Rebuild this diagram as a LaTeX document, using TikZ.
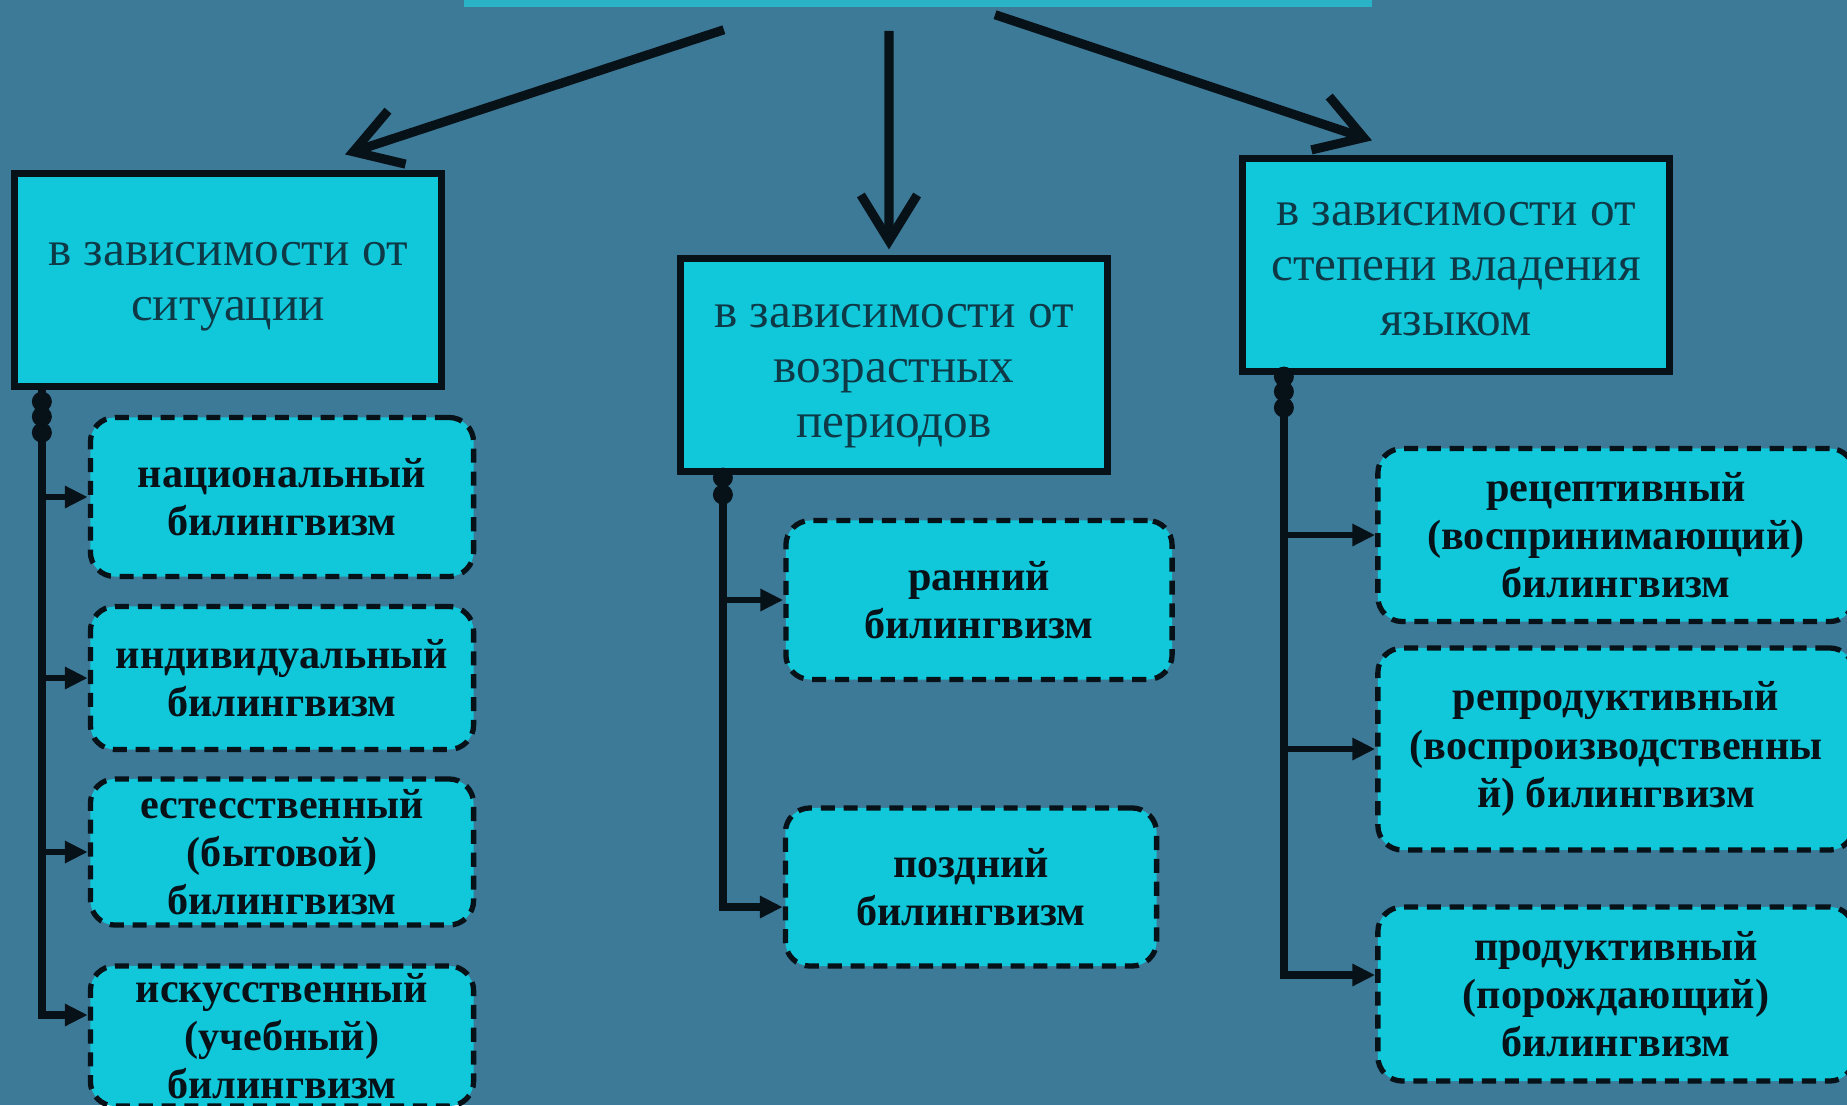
\documentclass[tikz,border=0pt]{standalone}
\usepackage{fontspec}
\setmainfont{Liberation Serif}
\usetikzlibrary{arrows.meta}
\definecolor{bgblue}{RGB}{60,122,152}
\definecolor{boxcyan}{RGB}{16,200,218}
\definecolor{topcyan}{RGB}{42,178,198}
\definecolor{ink}{RGB}{6,18,24}
\definecolor{headtext}{RGB}{14,58,72}
\tikzset{
	head/.style={draw=ink, line width=2pt, fill=boxcyan,
		minimum width=4.27cm, minimum height=2.12cm, inner sep=0pt},
	headlabel/.style={text=headtext, align=center, inner sep=0pt,
		font=\fontsize{14}{15.6}\selectfont},
	kind/.style={draw=ink, line width=1.5pt, dash pattern=on 4pt off 2.5pt,
		rounded corners=7pt, fill=boxcyan, text=ink, align=center, inner sep=0pt,
		font=\bfseries\fontsize{12}{13.7}\selectfont},
	trunk/.style={ink, line width=2.3pt, -{Triangle[length=6.5pt,width=6pt]}},
	branch/.style={ink, line width=1.8pt, -{Triangle[length=6.5pt,width=6pt]}},
	bigarrow/.style={ink, line width=2.6pt, -{Straight Barb[length=13pt,width=16pt]}},
}
\begin{document}
\begin{tikzpicture}[x=0.01cm, y=-0.01cm]
	\useasboundingbox (0,0) rectangle (1847,1105);
	\clip (0,0) rectangle (1847,1105);
	\fill[bgblue] (0,0) rectangle (1847,1105);

	% title bar, cut off at the top
	\node[fill=topcyan, minimum width=9.07cm, minimum height=0.94cm, inner sep=0pt] (title) at (918,-40) {};

	% three criteria
	\node[head] (sit) at (228,280) {};
	\node[head] (age) at (894,365) {};
	\node[head] (lvl) at (1456,265) {};
	\node[headlabel] (sit-txt) at ([yshift=-0.07cm]sit.center) {в зависимости от\\ситуации};
	\node[headlabel] (age-txt) at ([yshift=-0.11cm]age.center) {в зависимости от\\возрастных\\периодов};
	\node[headlabel] (lvl-txt) at ([yshift=-0.04cm]lvl.center) {в зависимости от\\степени владения\\языком};

	\coordinate (from-sit) at ([xshift=-1.94cm,yshift=-0.22cm]title.south);
	\coordinate (from-age) at ([xshift=-0.29cm,yshift=-0.23cm]title.south);
	\coordinate (from-lvl) at ([xshift=0.77cm,yshift=-0.07cm]title.south);
	\draw[bigarrow] (from-sit) -- ([xshift=1.17cm,yshift=0.16cm]sit.north);
	\draw[bigarrow] (from-age) -- ([xshift=-0.05cm,yshift=0.06cm]age.north);
	\draw[bigarrow] (from-lvl) -- ([xshift=-0.84cm,yshift=0.15cm]lvl.north);

	% kinds by situation
	\node[kind, minimum width=3.83cm, minimum height=1.59cm] (nat) at (282,497) {национальный\\билингвизм};
	\node[kind, minimum width=3.83cm, minimum height=1.43cm] (ind) at (282,678) {индивидуальный\\билингвизм};
	\node[kind, minimum width=3.83cm, minimum height=1.46cm] (natural) at (282,852) {естесственный\\(бытовой)\\билингвизм};
	\node[kind, minimum width=3.83cm, minimum height=1.40cm] (art) at (282,1036) {искусственный\\(учебный)\\билингвизм};

	% kinds by age
	\node[kind, minimum width=3.86cm, minimum height=1.59cm] (early) at (979,600) {ранний\\билингвизм};
	\node[kind, minimum width=3.71cm, minimum height=1.58cm] (late) at (971,887) {поздний\\билингвизм};

	% kinds by language level
	\node[kind, minimum width=4.76cm, minimum height=1.73cm] (rec) at (1616,535) {рецептивный\\(воспринимающий)\\билингвизм};
	\node[kind, minimum width=4.76cm, minimum height=2.02cm] (rep) at (1616,749) {репродуктивный\\(воспроизводственны\\й) билингвизм};
	\node[kind, minimum width=4.76cm, minimum height=1.74cm] (prod) at (1616,994) {продуктивный\\(порождающий)\\билингвизм};

	% trunks
	\coordinate (tl) at ([xshift=0.31cm]sit.south west);
	\coordinate (tm) at ([xshift=0.46cm]age.south west);
	\coordinate (tr) at ([xshift=0.45cm]lvl.south west);
	\draw[trunk] (tl) |- ([yshift=0.21cm]art.west);
	\draw[trunk] (tm) |- ([yshift=-0.2cm]late.west);
	\draw[trunk] (tr) |- ([yshift=0.19cm]prod.west);
	\foreach \s in {0.12,0.27,0.43} \fill[ink] ([yshift=-\s cm]tl) circle (0.1cm);
	\foreach \s in {0.03,0.2} \fill[ink] ([yshift=-\s cm]tm) circle (0.1cm);
	\foreach \s in {0.02,0.17,0.33} \fill[ink] ([yshift=-\s cm]tr) circle (0.1cm);

	% branches
	\draw[branch] (tl |- nat.west) -- (nat.west);
	\draw[branch] (tl |- ind.west) -- (ind.west);
	\draw[branch] (tl |- natural.west) -- (natural.west);
	\draw[branch] (tm |- early.west) -- (early.west);
	\draw[branch] (tr |- rec.west) -- (rec.west);
	\draw[branch] (tr |- rep.west) -- (rep.west);
\end{tikzpicture}
\end{document}
